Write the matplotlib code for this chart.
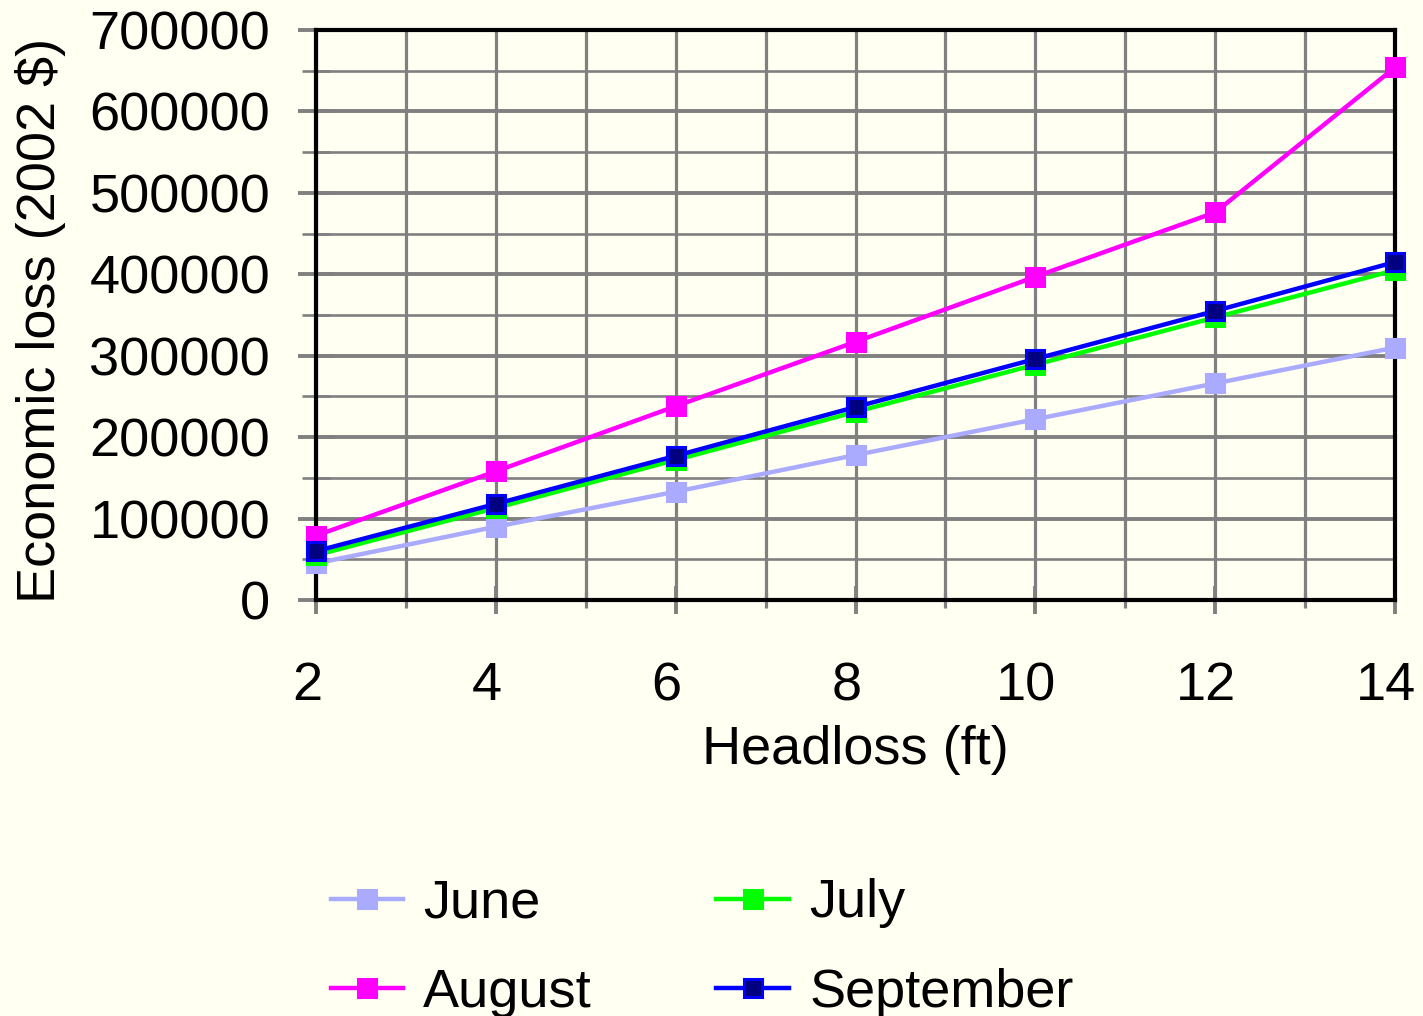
import matplotlib
matplotlib.use("Agg")
import matplotlib.pyplot as plt
from matplotlib.ticker import MultipleLocator
from matplotlib.transforms import ScaledTranslation

plt.rcParams["font.family"] = ["Liberation Sans", "DejaVu Sans"]

# ── data ────────────────────────────────────────────────────────────────
headloss = [2, 4, 6, 8, 10, 12, 14]
june = [45000, 90000, 133000, 178000, 222000, 266000, 310000]
july = [55000, 113000, 172000, 231000, 289000, 347000, 405000]
august = [79000, 158000, 238000, 317000, 397000, 476000, 654000]
september = [60000, 118000, 177000, 237000, 296000, 355000, 415000]

series = [
    ("June", june, "#AAAAFF", "#AAAAFF"),
    ("July", july, "#00FF00", "#00FF00"),
    ("August", august, "#FF00FF", "#FF00FF"),
    ("September", september, "#0000FF", "#000080"),
]

BG = "#FFFFF2"
GRID = "#808080"
FS = 39

fig = plt.figure(figsize=(14.23, 10.16), dpi=100, facecolor=BG)
W, H = 1423, 1016
ax = fig.add_axes([316 / W, (H - 600) / H, (1395 - 316) / W, 570 / H])
ax.set_facecolor(BG)

lines = {}
for name, vals, lc, fc in series:
    ln, = ax.plot(headloss, vals, color=lc, lw=3.2, marker="s", ms=13,
                  mfc=fc, mec=lc, mew=2.2, clip_on=False, zorder=5, label=name)
    lines[name] = ln

ax.set_xlim(2, 14)
ax.set_ylim(0, 700000)
ax.xaxis.set_major_locator(MultipleLocator(2))
ax.xaxis.set_minor_locator(MultipleLocator(1))
ax.yaxis.set_major_locator(MultipleLocator(100000))
ax.yaxis.set_minor_locator(MultipleLocator(50000))

ax.grid(True, which="major", axis="y", color=GRID, lw=2.8)
ax.grid(True, which="minor", axis="y", color=GRID, lw=1.9)
ax.grid(True, which="both", axis="x", color=GRID, lw=2.3)
ax.set_axisbelow(True)

ax.tick_params(axis="y", which="major", direction="inout", length=26,
               width=2.8, color=GRID, labelsize=FS, pad=20)
ax.tick_params(axis="y", which="minor", direction="inout", length=20,
               width=1.9, color=GRID)
ax.tick_params(axis="x", which="major", direction="inout", length=20,
               width=2.8, color=GRID, labelsize=FS, pad=34)
ax.tick_params(axis="x", which="minor", direction="inout", length=12,
               width=2.3, color=GRID)

# x tick labels sit a little left of their ticks in the reference
shift = ScaledTranslation(-9 / 100, 0, fig.dpi_scale_trans)
for lab in ax.get_xticklabels():
    lab.set_transform(lab.get_transform() + shift)

for s in ax.spines.values():
    s.set_color("black")
    s.set_linewidth(3)
    s.set_zorder(4)

ax.set_xlabel("Headloss (ft)", fontsize=FS, labelpad=10)
ax.set_ylabel("Economic loss (2002 $)", fontsize=FS)
ax.yaxis.set_label_coords(-(316 - 66) / (1395 - 316), 0.49)

handles = [lines["June"], lines["August"], lines["July"], lines["September"]]
leg = fig.legend(handles=handles, labels=[h.get_label() for h in handles],
                 ncol=2, loc="center", bbox_to_anchor=(702 / W, 1 - 948 / H),
                 fontsize=FS, frameon=False, handlelength=1.33,
                 handletextpad=0.38, columnspacing=2.3, labelspacing=0.72,
                 borderpad=0)

fig.savefig("out.png", dpi=100, facecolor=BG)
